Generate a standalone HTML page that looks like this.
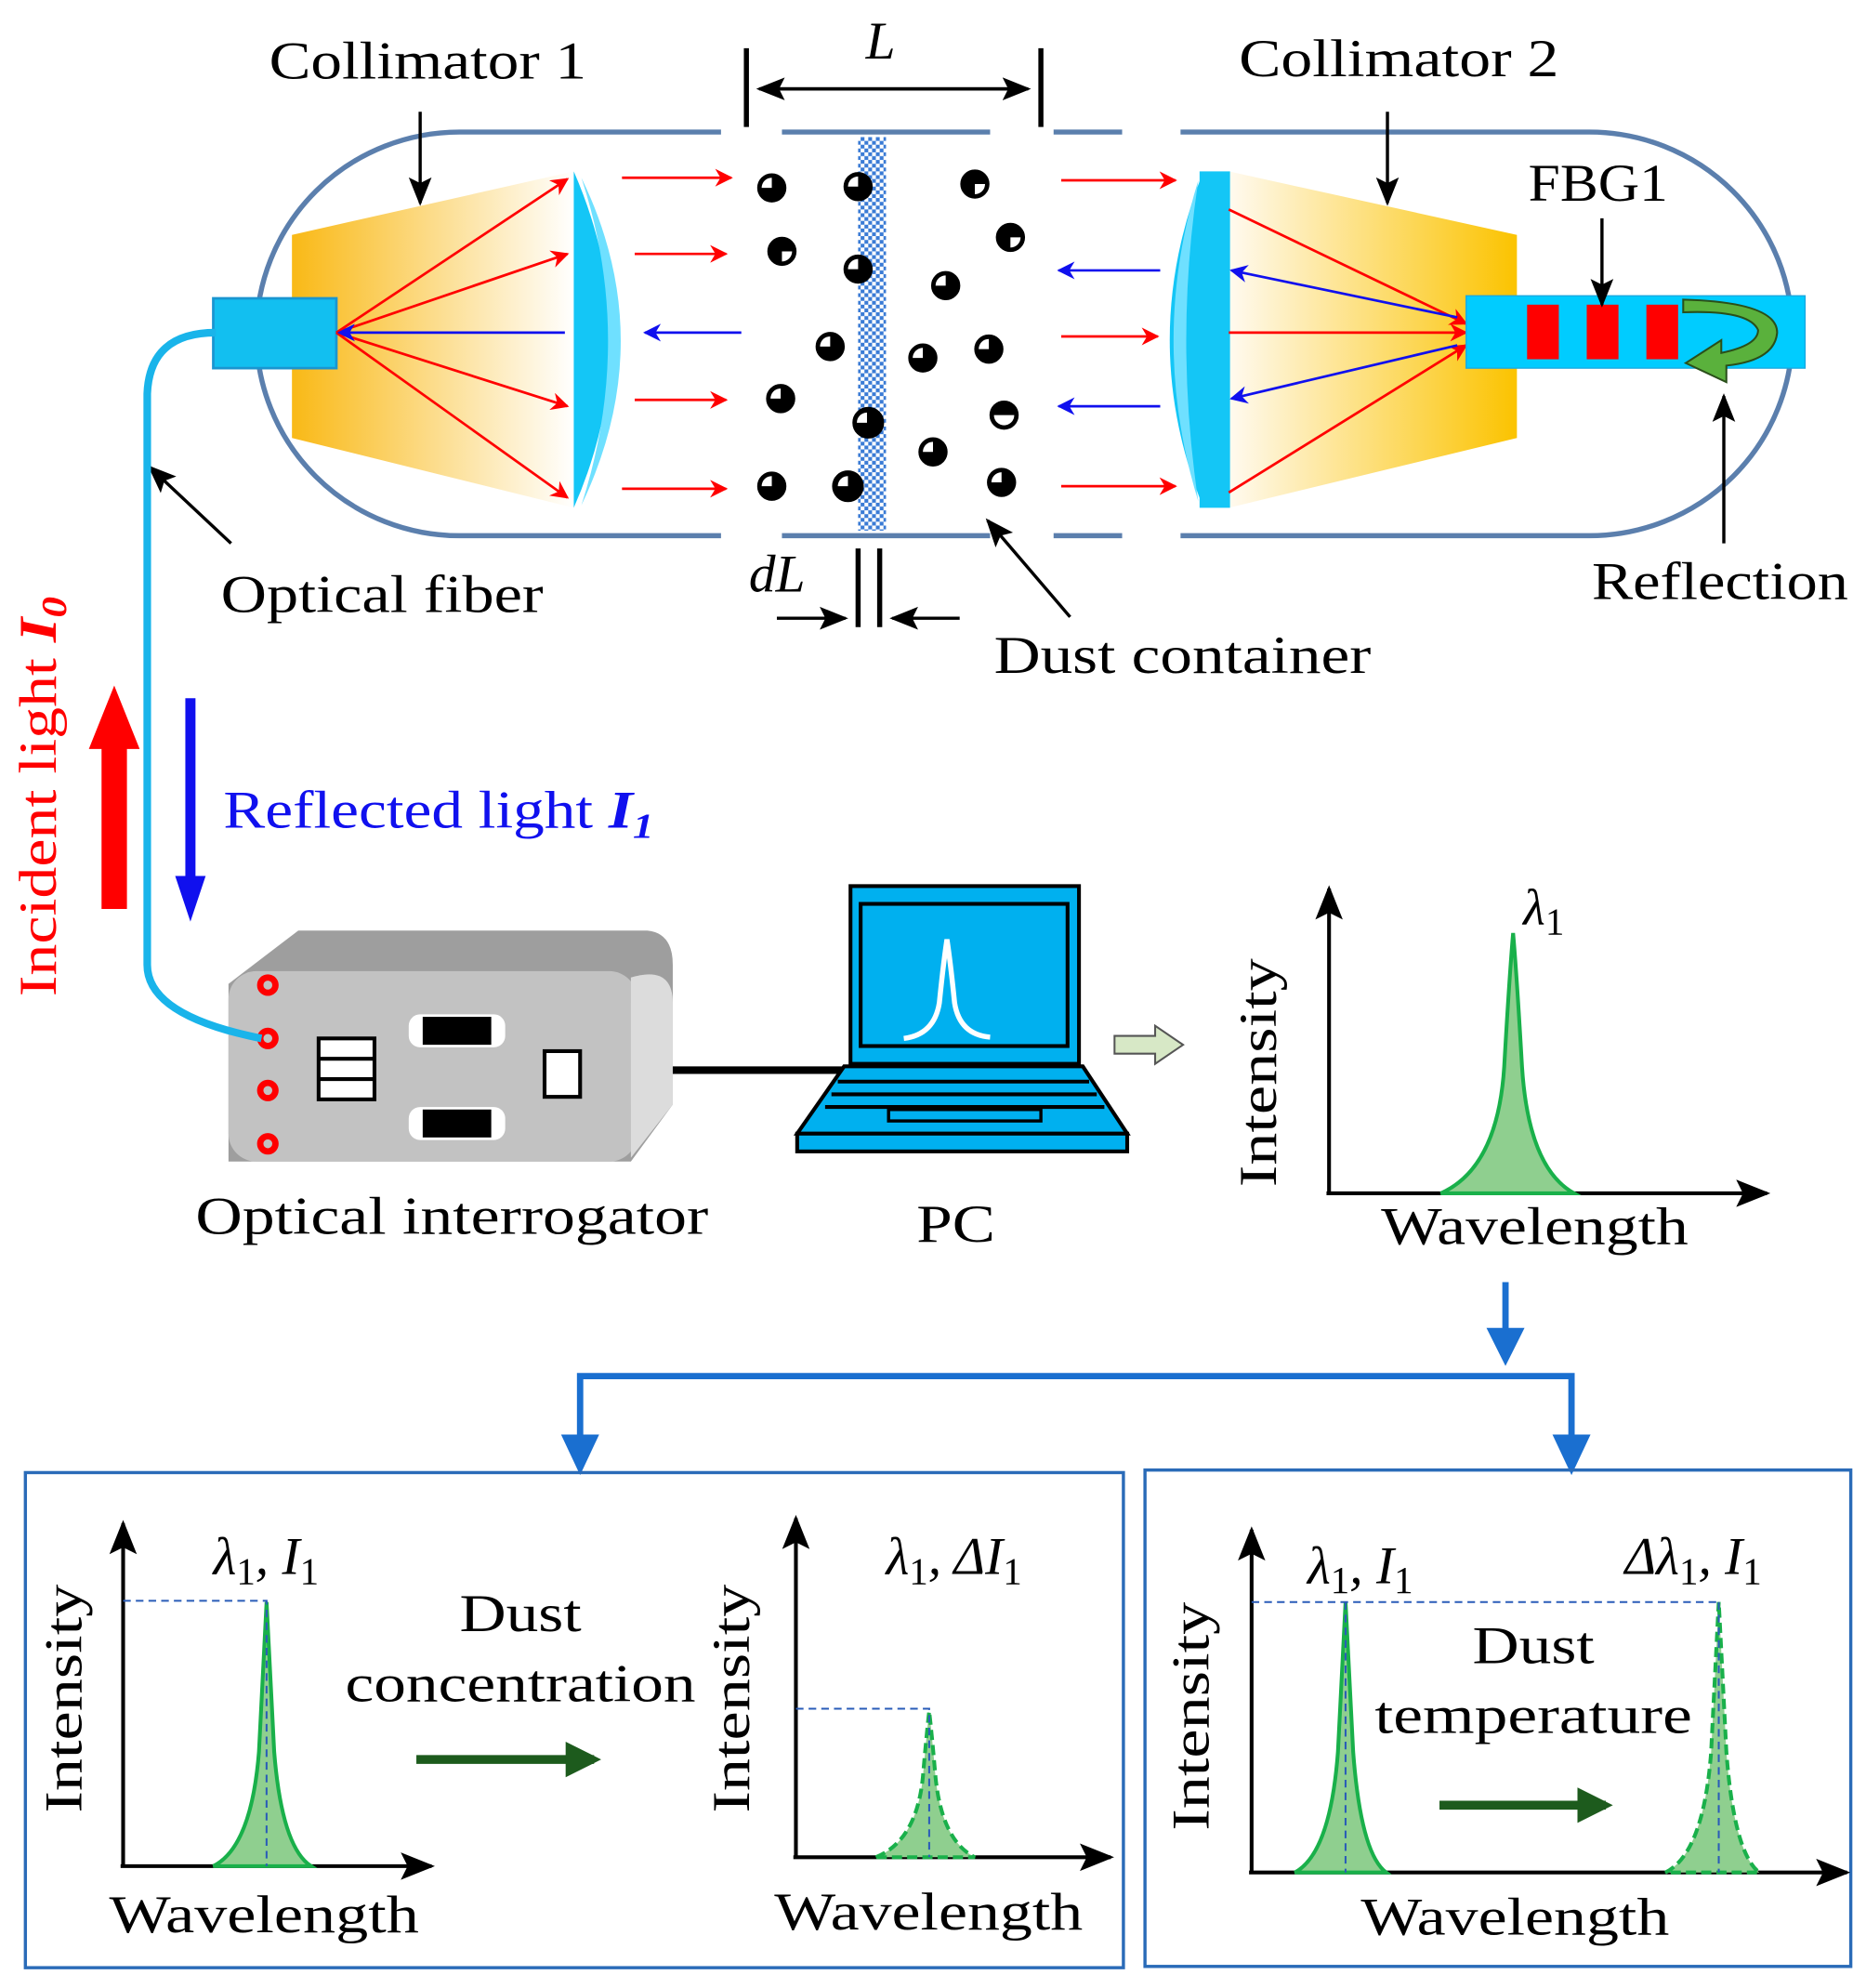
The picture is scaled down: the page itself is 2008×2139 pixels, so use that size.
<!DOCTYPE html>
<html><head><meta charset="utf-8"><style>html,body{margin:0;padding:0;background:#fff}svg{display:block}text{font-family:"Liberation Serif",serif}</style></head>
<body>
<svg width="2008" height="2139" viewBox="0 0 1470 1566" preserveAspectRatio="none" xmlns="http://www.w3.org/2000/svg">
<defs>
<linearGradient id="yl" x1="0" x2="1"><stop offset="0" stop-color="#f9b916"/><stop offset="1" stop-color="#ffffff"/></linearGradient>
<linearGradient id="yr" x1="0" x2="1"><stop offset="0" stop-color="#fffaf0"/><stop offset="1" stop-color="#fbc300"/></linearGradient>
<pattern id="chk" width="6" height="6" patternUnits="userSpaceOnUse"><rect width="6" height="6" fill="#fff"/><rect width="3" height="3" fill="#3a7bd5"/><rect x="3" y="3" width="3" height="3" fill="#3a7bd5"/></pattern>
<marker id="ar" viewBox="0 0 10 10" refX="9" refY="5" markerWidth="7" markerHeight="7" orient="auto"><path d="M0,0 L10,5 L0,10 L3,5z" fill="red"/></marker>
<marker id="ab" viewBox="0 0 10 10" refX="9" refY="5" markerWidth="7" markerHeight="7" orient="auto"><path d="M0,0 L10,5 L0,10 L3,5z" fill="#1010ee"/></marker>
<marker id="ak2" viewBox="0 0 10 10" refX="9" refY="5" markerWidth="9" markerHeight="9" orient="auto"><path d="M0,1 L10,5 L0,9 L2,5z" fill="#000"/></marker>
<marker id="abl" viewBox="0 0 10 10" refX="8" refY="5" markerWidth="6" markerHeight="6" orient="auto"><path d="M0,0 L10,5 L0,10z" fill="#1a6fd0"/></marker>
<marker id="ag" viewBox="0 0 10 10" refX="8" refY="5" markerWidth="4" markerHeight="4" orient="auto"><path d="M0,0 L10,5 L0,10z" fill="#1d5b1d"/></marker>
</defs>

<rect x="202" y="104" width="1210" height="318" rx="160" fill="none" stroke="#5b7fad" stroke-width="4"/>
<rect x="568" y="96" width="48" height="16" fill="#fff"/><rect x="780" y="96" width="50" height="16" fill="#fff"/><rect x="884" y="96" width="46" height="16" fill="#fff"/>
<rect x="568" y="414" width="48" height="16" fill="#fff"/><rect x="780" y="414" width="50" height="16" fill="#fff"/><rect x="884" y="414" width="46" height="16" fill="#fff"/>

<polygon points="230,185 452,135 452,400 230,345" fill="url(#yl)"/>
<rect x="168" y="235" width="97" height="55" fill="#12bff0" stroke="#1a95d0" stroke-width="2"/>
<path d="M452,135 Q510,268 452,400 Z" fill="#14c6f6"/>
<path d="M458,140 Q520,268 458,398 Q500,268 458,140z" fill="#6fe0ff"/>
<g stroke="red" stroke-width="2" marker-end="url(#ar)">
<line x1="265" y1="262" x2="447" y2="141"/><line x1="265" y1="262" x2="447" y2="200"/><line x1="265" y1="262" x2="447" y2="320"/><line x1="265" y1="262" x2="447" y2="392"/>
<line x1="490" y1="140" x2="576" y2="140"/><line x1="500" y1="200" x2="572" y2="200"/><line x1="500" y1="315" x2="572" y2="315"/><line x1="490" y1="385" x2="572" y2="385"/>
<line x1="836" y1="142" x2="926" y2="142"/><line x1="836" y1="265" x2="912" y2="265"/><line x1="836" y1="383" x2="926" y2="383"/>
</g>
<g stroke="#1010ee" stroke-width="2" marker-end="url(#ab)">
<line x1="445" y1="262" x2="267" y2="262"/><line x1="584" y1="262" x2="508" y2="262"/>
<line x1="914" y1="213" x2="834" y2="213"/><line x1="914" y1="320" x2="834" y2="320"/>
</g>
<rect x="676" y="108" width="22" height="310" fill="url(#chk)"/>
<g fill="#000" stroke="#000">
<circle cx="608" cy="148" r="11"/><circle cx="676" cy="147" r="11"/><circle cx="768" cy="145" r="11"/>
<circle cx="616" cy="198" r="11"/><circle cx="676" cy="212" r="11"/><circle cx="796" cy="187" r="11"/><circle cx="745" cy="225" r="11"/>
<circle cx="654" cy="273" r="11"/><circle cx="727" cy="282" r="11"/><circle cx="779" cy="275" r="11"/>
<circle cx="615" cy="314" r="11"/><circle cx="684" cy="333" r="12"/><circle cx="791" cy="327" r="11"/><circle cx="735" cy="356" r="11"/>
<circle cx="608" cy="383" r="11"/><circle cx="668" cy="383" r="12"/><circle cx="789" cy="380" r="11"/>
</g>
<g fill="#fff">
<path d="M600,148 a8,8 0 0 1 8,-8 v8z"/><path d="M668,147 a8,8 0 0 1 8,-8 v8z"/><path d="M768,145 h8 a8,8 0 0 1 -8,8z"/>
<path d="M616,198 h8 a8,8 0 0 1 -8,8z"/><path d="M668,212 a8,8 0 0 1 8,-8 v8z"/><path d="M796,187 h8 a8,8 0 0 1 -8,8z"/><path d="M737,225 a8,8 0 0 1 8,-8 v8z"/>
<path d="M646,273 a8,8 0 0 1 8,-8 v8z"/><path d="M719,282 a8,8 0 0 1 8,-8 v8z"/><path d="M771,275 a8,8 0 0 1 8,-8 v8z"/>
<path d="M607,314 a8,8 0 0 1 8,-8 v8z"/><path d="M675,333 a8,8 0 0 1 8,-8 v8z"/><path d="M783,327 h16 a8,8 0 0 1 -16,0z"/><path d="M727,356 a8,8 0 0 1 8,-8 v8z"/>
<path d="M600,383 a8,8 0 0 1 8,-8 v8z"/><path d="M660,383 a8,8 0 0 1 8,-8 v8z"/><path d="M781,380 a8,8 0 0 1 8,-8 v8z"/>
</g>

<polygon points="968,135 1195,185 1195,345 968,400" fill="url(#yr)"/>
<rect x="945" y="135" width="24" height="265" fill="#14c6f6"/>
<path d="M948,135 Q895,268 948,400 Z" fill="#14c6f6"/>
<path d="M944,142 Q905,268 944,395 Q925,268 944,142z" fill="#6fe0ff"/>
<g stroke="red" stroke-width="2" marker-end="url(#ar)">
<line x1="968" y1="165" x2="1155" y2="255"/><line x1="968" y1="262" x2="1155" y2="262"/><line x1="968" y1="388" x2="1155" y2="272"/>
</g>
<g stroke="#1010ee" stroke-width="2" marker-end="url(#ab)">
<line x1="1148" y1="250" x2="970" y2="213"/><line x1="1148" y1="272" x2="970" y2="314"/>
</g>
<rect x="1155" y="233" width="267" height="57" fill="#00ccff" stroke="#1aa8e0" stroke-width="1"/>
<rect x="1203" y="240" width="25" height="43" fill="red"/><rect x="1250" y="240" width="25" height="43" fill="red"/><rect x="1297" y="240" width="25" height="43" fill="red"/>
<path d="M1326,236 Q1400,238 1400,262 Q1398,284 1360,288 L1360,301 L1328,286 L1356,268 L1356,278 Q1385,272 1385,260 Q1378,244 1326,246 Z" fill="#5ab13c" stroke="#2a4f1a" stroke-width="1.5"/>

<g stroke="#000" stroke-width="2.5">
<line x1="331" y1="88" x2="331" y2="160" marker-end="url(#ak2)"/>
<line x1="1093" y1="88" x2="1093" y2="160" marker-end="url(#ak2)"/>
<line x1="1262" y1="172" x2="1262" y2="240" marker-end="url(#ak2)"/>
<line x1="1358" y1="428" x2="1358" y2="312" marker-end="url(#ak2)"/>
<line x1="182" y1="428" x2="118" y2="368" marker-end="url(#ak2)"/>
<line x1="843" y1="486" x2="778" y2="410" marker-end="url(#ak2)"/>
<line x1="588" y1="38" x2="588" y2="100" stroke-width="4"/><line x1="820" y1="38" x2="820" y2="100" stroke-width="4"/>
<line x1="600" y1="70" x2="810" y2="70" marker-end="url(#ak2)"/><line x1="808" y1="70" x2="598" y2="70" marker-end="url(#ak2)"/>
<line x1="676" y1="432" x2="676" y2="494" stroke-width="4"/><line x1="693" y1="432" x2="693" y2="494" stroke-width="4"/>
<line x1="612" y1="487" x2="666" y2="487" marker-end="url(#ak2)"/><line x1="756" y1="487" x2="703" y2="487" marker-end="url(#ak2)"/>
</g>
<g font-size="42" fill="#000">
<text x="212" y="62" textLength="250" lengthAdjust="spacingAndGlyphs">Collimator 1</text>
<text x="976" y="60" textLength="252" lengthAdjust="spacingAndGlyphs">Collimator 2</text>
<text x="1204" y="158" textLength="110" lengthAdjust="spacingAndGlyphs">FBG1</text>
<text x="1254" y="472" textLength="202" lengthAdjust="spacingAndGlyphs">Reflection</text>
<text x="174" y="482" textLength="254" lengthAdjust="spacingAndGlyphs">Optical fiber</text>
<text x="783" y="530" textLength="297" lengthAdjust="spacingAndGlyphs">Dust container</text>
<text x="682" y="46" font-style="italic">L</text>
<text x="590" y="466" font-style="italic">dL</text>
</g>

<text transform="translate(44,785) rotate(-90)" font-size="42" fill="red" textLength="315" lengthAdjust="spacingAndGlyphs">Incident light <tspan font-weight="bold" font-style="italic">I</tspan><tspan font-weight="bold" font-style="italic" font-size="28" dy="8">0</tspan></text>
<path d="M80,716 V590 H70 L90,540 L110,590 H100 V716z" fill="red"/>
<path d="M146,550 V690 H138 L150,726 L162,690 H154 V550z" fill="#1010ee"/>
<text x="176" y="652" font-size="42" fill="#1010ee" textLength="339" lengthAdjust="spacingAndGlyphs">Reflected light <tspan font-weight="bold" font-style="italic">I</tspan><tspan font-weight="bold" font-style="italic" font-size="28" dy="8">1</tspan></text>

<path d="M180,775 L235,733 L510,733 Q530,735 530,760 L530,870 L497,915 L180,915z" fill="#9e9e9e"/>
<rect x="180" y="765" width="322" height="150" rx="22" fill="#c2c2c2"/>
<path d="M497,770 Q530,760 530,790 L530,870 L497,912z" fill="#dcdcdc"/>
<g fill="none" stroke="red" stroke-width="5"><circle cx="211" cy="776" r="6"/><circle cx="211" cy="818" r="6"/><circle cx="211" cy="859" r="6"/><circle cx="211" cy="901" r="6"/></g>
<path d="M170,262 Q118,262 116,310 L116,760 Q116,800 206,818" fill="none" stroke="#19b4ea" stroke-width="6"/>
<rect x="251" y="818" width="44" height="48" fill="#fff" stroke="#000" stroke-width="3"/><line x1="251" y1="834" x2="295" y2="834" stroke="#000" stroke-width="3"/><line x1="251" y1="850" x2="295" y2="850" stroke="#000" stroke-width="3"/>
<rect x="322" y="799" width="76" height="26" rx="9" fill="#fff"/><rect x="333" y="801" width="54" height="22" fill="#000"/>
<rect x="322" y="872" width="76" height="26" rx="9" fill="#fff"/><rect x="333" y="874" width="54" height="22" fill="#000"/>
<rect x="429" y="828" width="28" height="36" fill="#fff" stroke="#000" stroke-width="3"/>
<line x1="530" y1="843" x2="672" y2="843" stroke="#000" stroke-width="6"/>
<text x="154" y="972" font-size="42" textLength="404" lengthAdjust="spacingAndGlyphs">Optical interrogator</text>
<rect x="670" y="698" width="180" height="140" fill="#00b0ef" stroke="#000" stroke-width="3"/>
<rect x="678" y="712" width="163" height="112" fill="#00b0ef" stroke="#000" stroke-width="3"/>
<path d="M712,818 Q736,815 740,790 Q743,760 746,740 Q749,760 752,790 Q756,815 780,817" fill="none" stroke="#fff" stroke-width="4"/>
<path d="M665,840 L853,840 L888,893 L628,893z" fill="#00b0ef" stroke="#000" stroke-width="3"/>
<g stroke="#000" stroke-width="3"><line x1="660" y1="852" x2="858" y2="852"/><line x1="655" y1="862" x2="864" y2="862"/><line x1="650" y1="872" x2="870" y2="872"/></g>
<rect x="700" y="874" width="120" height="9" fill="#00b0ef" stroke="#000" stroke-width="2.5"/>
<rect x="628" y="893" width="260" height="14" fill="#00b0ef" stroke="#000" stroke-width="3"/>
<text x="722" y="978" font-size="42" textLength="62" lengthAdjust="spacingAndGlyphs">PC</text>
<path d="M878,816 H910 V808 L932,823 L910,838 V830 H878z" fill="#d7e8c6" stroke="#555" stroke-width="1.5"/>

<g stroke="#000" stroke-width="3" fill="none">
<line x1="1047" y1="940" x2="1047" y2="700" marker-end="url(#ak2)"/>
<line x1="1045" y1="940" x2="1392" y2="940" marker-end="url(#ak2)"/>
</g>
<path d="M1135,940 Q1180,920 1185,840 Q1189,770 1192,735 Q1195,770 1199,840 Q1204,920 1240,940z" fill="#8fcf8f" stroke="#19b04a" stroke-width="3"/>
<text x="1200" y="728" font-size="40" font-style="italic">λ<tspan font-size="30" font-style="normal" dy="8">1</tspan></text>
<text transform="translate(1005,935) rotate(-90)" font-size="42" textLength="180" lengthAdjust="spacingAndGlyphs">Intensity</text>
<text x="1088" y="980" font-size="42" textLength="242" lengthAdjust="spacingAndGlyphs">Wavelength</text>

<g stroke="#1a6fd0" stroke-width="5" fill="none">
<line x1="1186" y1="1010" x2="1186" y2="1070" marker-end="url(#abl)"/>
<polyline points="457,1148 457,1084 1238,1084 1238,1148"/>
</g>
<path d="M442,1130 L472,1130 L457,1162z" fill="#1a6fd0"/><path d="M1223,1130 L1253,1130 L1238,1162z" fill="#1a6fd0"/>

<rect x="20" y="1160" width="865" height="390" fill="none" stroke="#2a6bb8" stroke-width="2.5"/>
<rect x="902" y="1158" width="556" height="391" fill="none" stroke="#2a6bb8" stroke-width="2.5"/>

<g stroke="#000" stroke-width="3" fill="none">
<line x1="97" y1="1470" x2="97" y2="1200" marker-end="url(#ak2)"/><line x1="95" y1="1470" x2="340" y2="1470" marker-end="url(#ak2)"/>
<line x1="627" y1="1463" x2="627" y2="1196" marker-end="url(#ak2)"/><line x1="625" y1="1463" x2="875" y2="1463" marker-end="url(#ak2)"/>
<line x1="986" y1="1475" x2="986" y2="1205" marker-end="url(#ak2)"/><line x1="984" y1="1475" x2="1455" y2="1475" marker-end="url(#ak2)"/>
</g>
<path d="M168,1470 Q198,1455 204,1380 Q208,1300 210,1262 Q212,1300 216,1380 Q222,1455 245,1470z" fill="#8fcf8f" stroke="#19b04a" stroke-width="3"/>
<path d="M690,1463 Q722,1450 727,1400 Q730,1365 732,1348 Q734,1365 737,1400 Q742,1450 768,1463z" fill="#8fcf8f" stroke="#19b04a" stroke-width="3" stroke-dasharray="8,4"/>
<path d="M1020,1475 Q1048,1460 1054,1380 Q1058,1300 1060,1262 Q1062,1300 1066,1380 Q1072,1460 1092,1475z" fill="#8fcf8f" stroke="#19b04a" stroke-width="3"/>
<path d="M1312,1475 Q1342,1460 1348,1380 Q1352,1300 1354,1262 Q1356,1300 1360,1380 Q1366,1460 1386,1475z" fill="#8fcf8f" stroke="#19b04a" stroke-width="3" stroke-dasharray="8,4"/>
<g stroke="#2a5cb8" stroke-width="1.5" stroke-dasharray="6,4" fill="none">
<polyline points="97,1261 210,1261 210,1470"/>
<polyline points="627,1346 732,1346 732,1463"/>
<polyline points="986,1262 1354,1262"/><line x1="1060" y1="1262" x2="1060" y2="1475"/><line x1="1354" y1="1262" x2="1354" y2="1475"/>
</g>
<g font-size="42">
<text x="168" y="1240" font-style="italic">λ<tspan font-size="30" font-style="normal" dy="8">1</tspan><tspan dy="-8">, I</tspan><tspan font-size="30" font-style="normal" dy="8">1</tspan></text>
<text x="698" y="1240" font-style="italic">λ<tspan font-size="30" font-style="normal" dy="8">1</tspan><tspan dy="-8">, ΔI</tspan><tspan font-size="30" font-style="normal" dy="8">1</tspan></text>
<text x="1030" y="1247" font-style="italic">λ<tspan font-size="30" font-style="normal" dy="8">1</tspan><tspan dy="-8">, I</tspan><tspan font-size="30" font-style="normal" dy="8">1</tspan></text>
<text x="1280" y="1240" font-style="italic">Δλ<tspan font-size="30" font-style="normal" dy="8">1</tspan><tspan dy="-8">, I</tspan><tspan font-size="30" font-style="normal" dy="8">1</tspan></text>
<text x="362" y="1285" textLength="96" lengthAdjust="spacingAndGlyphs">Dust</text>
<text x="272" y="1340" textLength="276" lengthAdjust="spacingAndGlyphs">concentration</text>
<text x="1160" y="1310" textLength="96" lengthAdjust="spacingAndGlyphs">Dust</text>
<text x="1083" y="1365" textLength="250" lengthAdjust="spacingAndGlyphs">temperature</text>
<text x="86" y="1522" textLength="244" lengthAdjust="spacingAndGlyphs">Wavelength</text>
<text x="610" y="1520" textLength="243" lengthAdjust="spacingAndGlyphs">Wavelength</text>
<text x="1072" y="1524" textLength="243" lengthAdjust="spacingAndGlyphs">Wavelength</text>
<text transform="translate(64,1428) rotate(-90)" textLength="180" lengthAdjust="spacingAndGlyphs">Intensity</text>
<text transform="translate(590,1428) rotate(-90)" textLength="180" lengthAdjust="spacingAndGlyphs">Intensity</text>
<text transform="translate(952,1442) rotate(-90)" textLength="180" lengthAdjust="spacingAndGlyphs">Intensity</text>
</g>
<line x1="328" y1="1386" x2="468" y2="1386" stroke="#1d5b1d" stroke-width="7" marker-end="url(#ag)"/>
<line x1="1134" y1="1422" x2="1265" y2="1422" stroke="#1d5b1d" stroke-width="7" marker-end="url(#ag)"/>
</svg>
</body></html>
